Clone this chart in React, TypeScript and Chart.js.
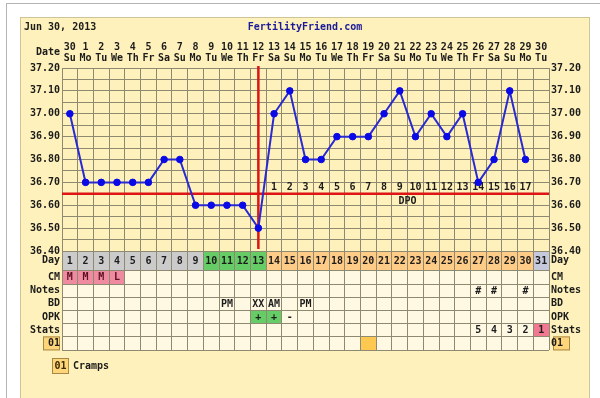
import React, { useEffect, useRef } from 'react';
import { Chart, registerables } from 'chart.js';

Chart.register(...registerables);

// ---------- data ----------
const chartDate = 'Jun 30, 2013';
const siteName = 'FertilityFriend.com';
const dates = ['30','1','2','3','4','5','6','7','8','9','10','11','12','13','14','15','16','17','18','19','20','21','22','23','24','25','26','27','28','29','30'];
const weekdays = ['Su','Mo','Tu','We','Th','Fr','Sa','Su','Mo','Tu','We','Th','Fr','Sa','Su','Mo','Tu','We','Th','Fr','Sa','Su','Mo','Tu','We','Th','Fr','Sa','Su','Mo','Tu'];
const temps: (number | null)[] = [37.0, 36.7, 36.7, 36.7, 36.7, 36.7, 36.8, 36.8, 36.6, 36.6, 36.6, 36.6, 36.5, 37.0, 37.1, 36.8, 36.8, 36.9, 36.9, 36.9, 37.0, 37.1, 36.9, 37.0, 36.9, 37.0, 36.7, 36.8, 37.1, 36.8, null];
const cycleDays = ['1','2','3','4','5','6','7','8','9','10','11','12','13','14','15','16','17','18','19','20','21','22','23','24','25','26','27','28','29','30','31'];
const dayPhase = ['f','f','f','f','f','f','f','f','f','o','o','o','o','l','l','l','l','l','l','l','l','l','l','l','l','l','l','l','l','l','n'];
const dpoNumbers: (number | null)[] = [null,null,null,null,null,null,null,null,null,null,null,null,null,1,2,3,4,5,6,7,8,9,10,11,12,13,14,15,16,17,null];
const cmValues = ['M','M','M','L','','','','','','','','','','','','','','','','','','','','','','','','','','',''];
const notesValues = ['','','','','','','','','','','','','','','','','','','','','','','','','','','#','#','','#',''];
const bdValues = ['','','','','','','','','','','PM','','XX','AM','','PM','','','','','','','','','','','','','','',''];
const opkValues = ['','','','','','','','','','','','','+','+','-','','','','','','','','','','','','','','','',''];
const statsValues = ['','','','','','','','','','','','','','','','','','','','','','','','','','','5','4','3','2','1'];
const crampsDays = [false,false,false,false,false,false,false,false,false,false,false,false,false,false,false,false,false,false,false,true,false,false,false,false,false,false,false,false,false,false,false];
const rowLabels = ['Day','CM','Notes','BD','OPK','Stats','01'];
const tempTickLabels = [36.4, 36.5, 36.6, 36.7, 36.8, 36.9, 37.0, 37.1, 37.2];
const coverline = 36.65;
const ovulationIndex = 12;
const legendCode = '01';
const legendText = 'Cramps';

// ---------- style ----------
const FONT = '"DejaVu Sans Mono", monospace';
const FS = 10;
const GRID = '#8e8a72';
const TXT = '#1c1c1c';
const PANEL = '#fef1bb';
const CELL = '#fff8e3';
const RED = '#dd1515';
const BLUE_LINE = '#2a2ad2';
const BLUE_PT = '#0a0ae6';
const phaseColors: Record<string, string> = { f: '#cbcbcb', o: '#66cc66', l: '#ffcc88', n: '#c6c9dc' };

const rowWeights = [1.5, 1, 1, 1, 1, 1, 1];
const rowBounds = rowWeights.reduce((a: number[], w) => [...a, a[a.length - 1] + w], [0]);
const rowCenters = rowWeights.map((w, i) => rowBounds[i] + w / 2);
const near = (a: number, b: number) => Math.abs(a - b) < 1e-6;

const tempTickValues: number[] = [];
tempTickLabels.forEach((v, i) => {
  tempTickValues.push(v);
  if (i < tempTickLabels.length - 1) tempTickValues.push((v + tempTickLabels[i + 1]) / 2);
});

const font = (size = FS) => `bold ${size}px ${FONT}`;

const ffPlugin = {
  id: 'ffPlugin',
  beforeDraw(chart: any) {
    const { ctx } = chart;
    const xs = chart.scales.x;
    const rows = chart.scales.rows;
    ctx.save();
    ctx.fillStyle = '#ffffff';
    ctx.fillRect(0, 0, chart.width, chart.height);
    ctx.strokeStyle = '#b4b4b4';
    ctx.lineWidth = 1;
    ctx.beginPath();
    ctx.moveTo(6, 3.5); ctx.lineTo(chart.width, 3.5);
    ctx.moveTo(6.5, 3); ctx.lineTo(6.5, chart.height);
    ctx.stroke();
    ctx.fillStyle = PANEL;
    ctx.fillRect(20, 17, 570, chart.height);
    ctx.strokeStyle = '#cfc39a';
    ctx.strokeRect(20.5, 17.5, 569, chart.height);

    const colW = (xs.right - xs.left) / dates.length;
    const cell = (i: number, r: number, color: string) => {
      const x0 = xs.getPixelForValue(i) - colW / 2;
      const y0 = rows.getPixelForValue(rowBounds[r]);
      const y1 = rows.getPixelForValue(rowBounds[r + 1]);
      ctx.fillStyle = color;
      ctx.fillRect(x0, y0, colW, y1 - y0);
    };
    for (let i = 0; i < dates.length; i++) {
      cell(i, 0, phaseColors[dayPhase[i]]);
      for (let r = 1; r < rowLabels.length; r++) cell(i, r, CELL);
      if (cmValues[i]) cell(i, 1, '#f08aa0');
      if (opkValues[i] === '+') cell(i, 4, '#66cc66');
      if (statsValues[i] === '1') cell(i, 5, '#f07890');
      if (crampsDays[i]) cell(i, 6, '#ffc850');
    }
    // "01" label boxes
    const yc = rows.getPixelForValue(rowCenters[6]);
    ctx.fillStyle = '#ffd57a';
    ctx.strokeStyle = '#a88848';
    [[43, 17], [553, 17]].forEach(([bx, bw]) => {
      ctx.fillRect(bx, yc - 7, bw, 14);
      ctx.strokeRect(bx + 0.5, yc - 6.5, bw - 1, 13);
    });
    ctx.restore();
  },
  beforeDatasetsDraw(chart: any) {
    const { ctx, chartArea } = chart;
    const xs = chart.scales.x;
    const ys = chart.scales.y;
    ctx.save();
    ctx.strokeStyle = RED;
    ctx.lineWidth = 2.5;
    ctx.beginPath();
    const cy = ys.getPixelForValue(coverline);
    ctx.moveTo(chartArea.left, cy);
    ctx.lineTo(chartArea.right, cy);
    const ox = xs.getPixelForValue(ovulationIndex);
    ctx.moveTo(ox, ys.top - 2);
    ctx.lineTo(ox, ys.bottom - 2);
    ctx.stroke();
    ctx.fillStyle = TXT;
    ctx.font = font();
    ctx.textAlign = 'center';
    ctx.textBaseline = 'middle';
    const dy = ys.getPixelForValue(36.68);
    dpoNumbers.forEach((n, i) => {
      if (n !== null) ctx.fillText(String(n), xs.getPixelForValue(i), dy);
    });
    ctx.fillText('DPO', (xs.getPixelForValue(21) + xs.getPixelForValue(22)) / 2, ys.getPixelForValue(36.617));
    ctx.restore();
  },
  afterDraw(chart: any) {
    const { ctx } = chart;
    const xs = chart.scales.x;
    const rows = chart.scales.rows;
    ctx.save();
    ctx.font = font();
    ctx.textBaseline = 'middle';
    ctx.textAlign = 'center';
    const rowTexts = [cycleDays, cmValues, notesValues, bdValues, opkValues, statsValues];
    rowTexts.forEach((vals, r) => {
      const y = rows.getPixelForValue(rowCenters[r]) + 0.5;
      vals.forEach((t, i) => {
        if (t) {
          ctx.fillStyle = r === 1 ? '#5a1020' : TXT;
          ctx.fillText(t, xs.getPixelForValue(i), y);
        }
      });
    });
    ctx.textAlign = 'left';
    ctx.fillStyle = TXT;
    ctx.fillText(chartDate, 24, 27);
    ctx.textAlign = 'center';
    ctx.fillStyle = '#1a1a9c';
    ctx.fillText(siteName, 305, 27);
    ctx.textAlign = 'right';
    ctx.fillStyle = TXT;
    ctx.fillText('Date', 60, 52);
    // legend
    ctx.fillStyle = '#ffd57a';
    ctx.fillRect(52, 358, 17, 16);
    ctx.strokeStyle = '#a88848';
    ctx.strokeRect(52.5, 358.5, 16, 15);
    ctx.fillStyle = '#3a2a00';
    ctx.textAlign = 'center';
    ctx.fillText(legendCode, 60.5, 366.5);
    ctx.textAlign = 'left';
    ctx.fillStyle = TXT;
    ctx.fillText(legendText, 73, 366.5);
    ctx.restore();
  },
};

const tickFont = { family: FONT, size: FS, weight: 'bold' as const, lineHeight: 1.1 };
const tempLabel = (v: any) => {
  const c = Math.round(Number(v) * 100);
  return c % 10 === 0 ? (c / 100).toFixed(2) : '';
};
const rowLabel = (v: any) => {
  const i = rowCenters.findIndex((c) => near(c, Number(v)));
  return i >= 0 ? rowLabels[i] : '';
};
const rowTicks = (s: any) => {
  s.ticks = [...rowBounds, ...rowCenters].sort((a, b) => a - b).map((v) => ({ value: v }));
};
const tempTicks = (s: any) => {
  s.ticks = tempTickValues.map((v) => ({ value: v }));
};

export default function App() {
  const ref = useRef<HTMLCanvasElement>(null);
  useEffect(() => {
    const canvas = ref.current!;
    const chart = new Chart(canvas, {
      type: 'line',
      data: {
        labels: dates.map((d, i) => [d, weekdays[i]]),
        datasets: [
          {
            data: temps,
            yAxisID: 'y',
            borderColor: BLUE_LINE,
            backgroundColor: BLUE_PT,
            pointBackgroundColor: BLUE_PT,
            pointBorderColor: BLUE_PT,
            pointRadius: 3.3,
            pointBorderWidth: 1,
            pointHoverRadius: 3.3,
            borderWidth: 2,
            tension: 0,
            spanGaps: false,
          },
        ],
      },
      options: {
        responsive: false,
        animation: false,
        devicePixelRatio: 1,
        events: [],
        layout: { padding: { left: 0, right: 0, top: 0, bottom: 48 } },
        plugins: { legend: { display: false }, tooltip: { enabled: false } },
        scales: {
          x: {
            type: 'category',
            position: 'top',
            offset: true,
            grid: { offset: true, color: GRID, drawTicks: false },
            border: { color: GRID },
            ticks: { autoSkip: false, maxRotation: 0, minRotation: 0, padding: 4, color: TXT, font: tickFont },
            afterFit: (s: any) => { s.height = 68; },
          },
          y: {
            type: 'linear',
            position: 'left',
            stack: 'L',
            stackWeight: 183,
            weight: 2,
            min: 36.4,
            max: 37.2,
            afterBuildTicks: tempTicks,
            grid: { color: GRID, drawTicks: false },
            border: { color: GRID },
            ticks: { callback: tempLabel, padding: 2, color: TXT, font: tickFont, autoSkip: false },
            afterFit: (s: any) => { s.width = 62; },
          },
          rows: {
            type: 'linear',
            position: 'left',
            stack: 'L',
            stackWeight: 99,
            weight: 1,
            reverse: true,
            min: 0,
            max: 7.5,
            afterBuildTicks: rowTicks,
            grid: {
              color: (c: any) => (rowBounds.some((b) => near(b, c.tick ? c.tick.value : -1)) ? GRID : 'rgba(0,0,0,0)'),
              drawTicks: false,
            },
            border: { color: GRID },
            ticks: { callback: rowLabel, padding: 2, color: TXT, font: tickFont, autoSkip: false },
            afterFit: (s: any) => { s.width = 62; },
          },
          y2: {
            type: 'linear',
            position: 'right',
            stack: 'R',
            stackWeight: 183,
            weight: 1,
            min: 36.4,
            max: 37.2,
            afterBuildTicks: tempTicks,
            grid: { display: false, drawTicks: false },
            border: { display: false },
            ticks: { callback: tempLabel, padding: 2, color: TXT, font: tickFont, autoSkip: false },
            afterFit: (s: any) => { s.width = 51; },
          },
          rows2: {
            type: 'linear',
            position: 'right',
            stack: 'R',
            stackWeight: 99,
            weight: 2,
            reverse: true,
            min: 0,
            max: 7.5,
            afterBuildTicks: rowTicks,
            grid: { display: false, drawTicks: false },
            border: { display: false },
            ticks: { callback: rowLabel, padding: 2, color: TXT, font: tickFont, autoSkip: false },
            afterFit: (s: any) => { s.width = 51; },
          },
        },
      } as any,
      plugins: [ffPlugin],
    });
    return () => chart.destroy();
  }, []);
  return (
    <div style={{ position: 'fixed', left: 0, top: 0, width: 600, height: 398 }}>
      <canvas ref={ref} width={600} height={398} style={{ display: 'block', width: 600, height: 398 }} />
    </div>
  );
}
